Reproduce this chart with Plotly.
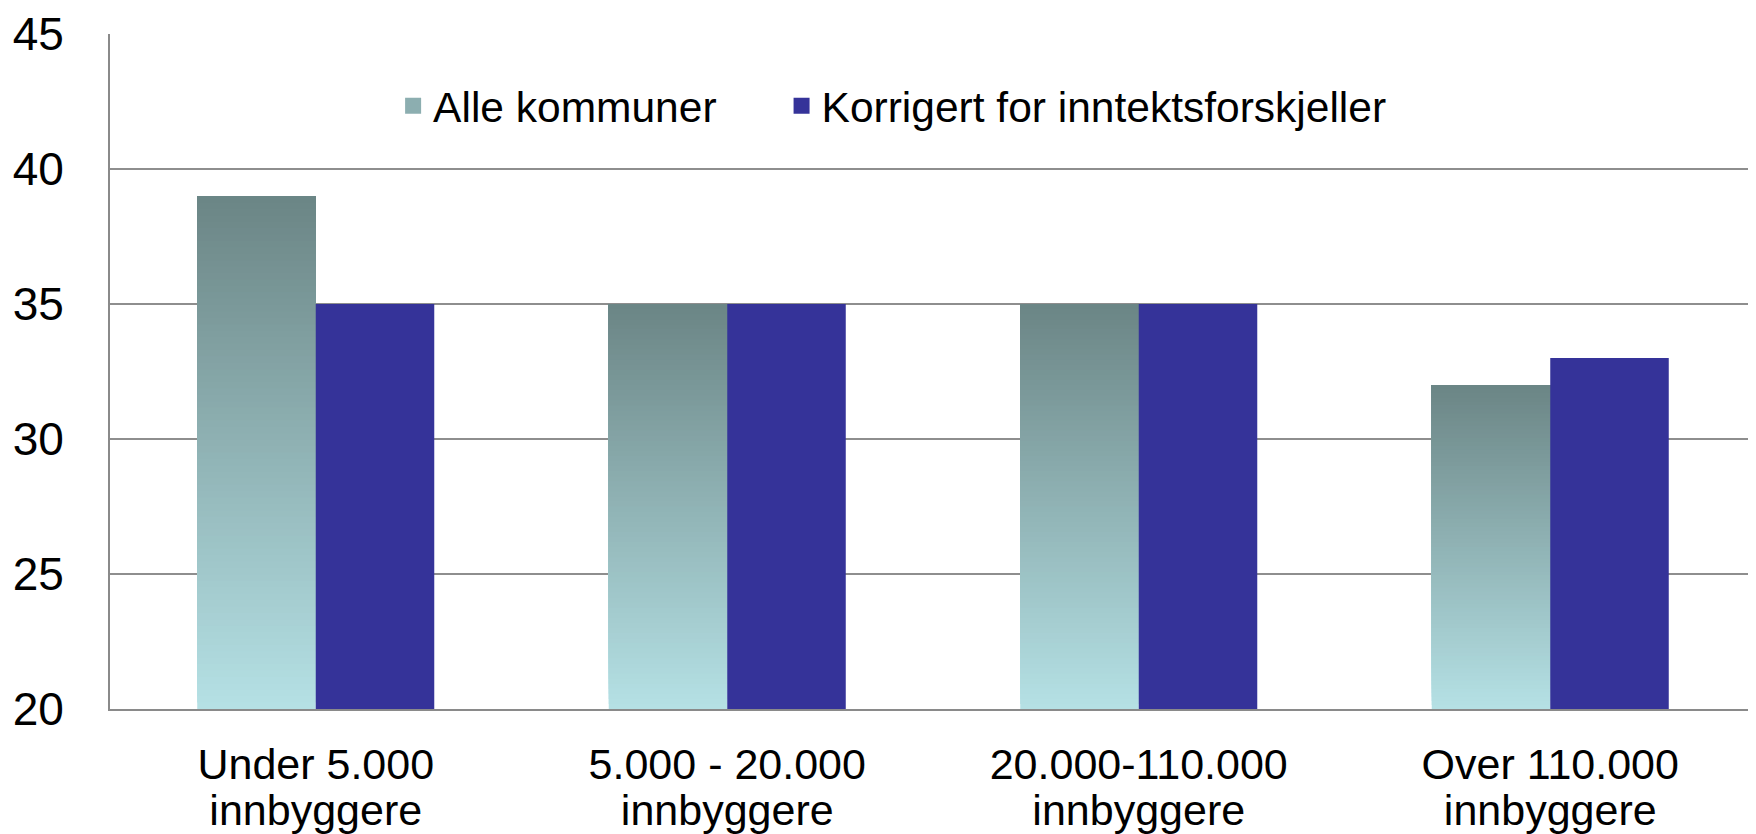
import plotly.graph_objects as go

categories = ["Under 5.000", "5.000 - 20.000", "20.000-110.000", "Over 110.000"]
category_line2 = ["innbyggere", "innbyggere", "innbyggere", "innbyggere"]
alle_kommuner = [39, 35, 35, 32]
korrigert = [35, 35, 35, 33]
y_ticks = [20, 25, 30, 35, 40, 45]
series_names = ["Alle kommuner", "Korrigert for inntektsforskjeller"]

AXIS_MIN = 20
N_SEG = 80
TOP_RGB = (0x6b, 0x85, 0x85)
BOT_RGB = (0xb5, 0xe1, 0xe5)
BLUE = "#353399"
FONT = "Liberation Sans, Arial, sans-serif"


def mix(a, b, t):
    return "rgb(%d,%d,%d)" % tuple(round(a[i] + (b[i] - a[i]) * t) for i in range(3))


fig = go.Figure()

# gradient-filled bars for "Alle kommuner": overlapping slices, each from its base to the bar top
for k in range(N_SEG):
    t = (k + 0.5) / N_SEG
    bases = [AXIS_MIN + (v - AXIS_MIN) * k / N_SEG for v in alle_kommuner]
    heights = [v - b for v, b in zip(alle_kommuner, bases)]
    fig.add_trace(go.Bar(
        x=categories, y=heights, base=bases, offsetgroup="a",
        marker=dict(color=mix(BOT_RGB, TOP_RGB, t), line=dict(width=0)),
        showlegend=False, hoverinfo="skip"))

fig.add_trace(go.Bar(
    x=categories, y=korrigert, offsetgroup="b", name=series_names[1],
    marker=dict(color=BLUE, line=dict(width=0)), showlegend=False))

# second line of the category labels, on an overlaid axis
fig.add_trace(go.Scatter(x=[None], y=[None], xaxis="x2", mode="markers",
                         showlegend=False, hoverinfo="skip"))

# legend entries
fig.add_trace(go.Scatter(x=[None], y=[None], mode="markers", name=series_names[0],
                         marker=dict(symbol="square", size=16, color=mix(BOT_RGB, TOP_RGB, 0.55)),
                         legend="legend"))
fig.add_trace(go.Scatter(x=[None], y=[None], mode="markers", name=series_names[1],
                         marker=dict(symbol="square", size=16, color=BLUE),
                         legend="legend2"))

leg_common = dict(orientation="h", xanchor="left", y=0.893, yanchor="middle",
                  font=dict(size=42.5, family=FONT, color="black"), bgcolor="rgba(0,0,0,0)",
                  itemsizing="trace")
fig.update_layout(
    width=1748, height=826,
    margin=dict(l=102, r=0, t=26, b=125, autoexpand=False),
    paper_bgcolor="white", plot_bgcolor="white",
    barmode="group", bargap=0.424, bargroupgap=0,
    font=dict(family=FONT, color="black"),
    legend=dict(x=0.172, **leg_common),
    legend2=dict(x=0.408, **leg_common),
    xaxis2=dict(overlaying="x", anchor="y", side="bottom", type="linear",
                range=[-0.5, len(categories) - 0.5],
                tickvals=list(range(len(categories))), ticktext=category_line2,
                tickfont=dict(size=43, family=FONT, color="black"),
                showgrid=False, showline=False, zeroline=False, ticks="",
                ticklabelstandoff=72, automargin=False),
)
fig.update_yaxes(range=[AXIS_MIN, 45], tickvals=y_ticks, ticktext=[str(v) for v in y_ticks],
                 tickfont=dict(size=46), showgrid=True, gridcolor="#8e8e8e", gridwidth=1.5,
                 showline=True, linecolor="#8a8a8a", linewidth=2, ticks="",
                 ticklabelstandoff=35, zeroline=False, automargin=False)
fig.update_layout(xaxis=dict(tickfont=dict(size=43), showline=True, linecolor="#8a8a8a",
                             linewidth=2, ticks="", showgrid=False, automargin=False,
                             ticklabelstandoff=16))

fig.write_html("out.html")
